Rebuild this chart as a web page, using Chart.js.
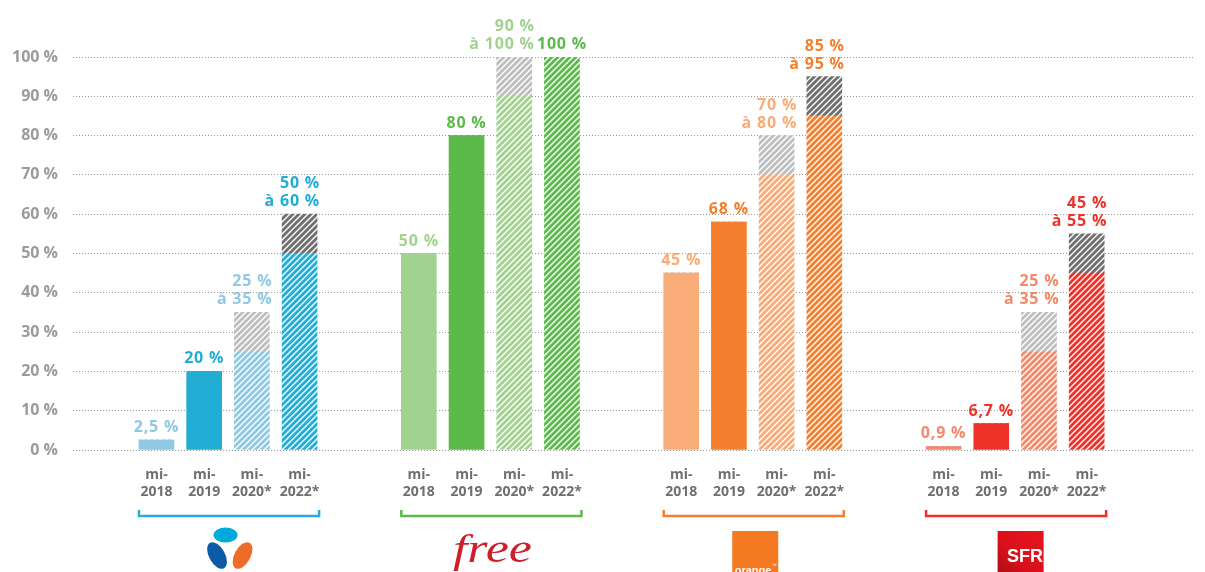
<!DOCTYPE html>
<html>
<head>
<meta charset="utf-8">
<script src="https://cdn.jsdelivr.net/npm/chart.js@4"></script>
<style>
  html, body { margin: 0; background: #fff; }
</style>
</head>
<body>
<canvas id="c" width="1205" height="572"></canvas>
<script>
// data
const operators = ['Bouygues Telecom', 'Free', 'Orange', 'SFR'];
const periods = [['mi-', '2018'], ['mi-', '2019'], ['mi-', '2020*'], ['mi-', '2022*']];
const lowValues = [2.5, 20, 25, 50,   50, 80, 90, 100,   45, 58, 70, 85,   0.9, 6.7, 25, 45];
const highValues = [2.5, 20, 35, 60,  50, 80, 100, 100,  45, 58, 80, 95,   0.9, 6.7, 35, 55];
const valueLabels = [
  ['2,5 %'], ['20 %'], ['25 %', 'à 35 %'], ['50 %', 'à 60 %'],
  ['50 %'], ['80 %'], ['90 %', 'à 100 %'], ['100 %'],
  ['45 %'], ['68 %'], ['70 %', 'à 80 %'], ['85 %', 'à 95 %'],
  ['0,9 %'], ['6,7 %'], ['25 %', 'à 35 %'], ['45 %', 'à 55 %']
];
const yTicks = [0, 10, 20, 30, 40, 50, 60, 70, 80, 90, 100];

// colours
const lightColors = ['#8fc8e2', '#a2d28f', '#f9ac78', '#f3896b'];
const darkColors = ['#22add5', '#5cba4b', '#f37f2f', '#ee3129'];
const bracketColors = ['#2aaad8', '#5dbb4c', '#f47e2e', '#ee3129'];
const greyLight = '#bdbec0';
const greyDark = '#6e6f71';
const fontFamily = '"Open Sans"';

// slot layout on the category axis (half-width slots, spacers are blank)
const leadSlots = 3, groupStep = 11, barStep = 2, totalSlots = 47;
const barSlots = [];
operators.forEach((op, g) => periods.forEach((p, k) => barSlots.push(leadSlots + g * groupStep + k * barStep)));

const canvas = document.getElementById('c');
const ctx = canvas.getContext('2d');

function hatch(color) {
  const s = 6;
  const tile = document.createElement('canvas');
  tile.width = s; tile.height = s;
  const t = tile.getContext('2d');
  t.fillStyle = color;
  t.fillRect(0, 0, s, s);
  t.strokeStyle = '#fff';
  t.lineWidth = 1.4;
  t.beginPath();
  t.moveTo(0, s); t.lineTo(s, 0);
  t.moveTo(-2, 2); t.lineTo(2, -2);
  t.moveTo(s - 2, s + 2); t.lineTo(s + 2, s - 2);
  t.stroke();
  return ctx.createPattern(tile, 'repeat');
}

const labels = [];
const baseData = [];
const rangeData = [];
const baseColors = [];
const rangeColors = [];
for (let i = 0; i < totalSlots; i++) {
  labels.push('');
  baseData.push(null);
  rangeData.push(null);
  baseColors.push('transparent');
  rangeColors.push('transparent');
}
const labelColors = [];
barSlots.forEach((slot, i) => {
  const g = Math.floor(i / 4), k = i % 4;
  labels[slot] = periods[k];
  baseData[slot] = lowValues[i];
  rangeData[slot] = +(highValues[i] - lowValues[i]).toFixed(1);
  const col = (k % 2 === 0) ? lightColors[g] : darkColors[g];
  labelColors.push(col);
  baseColors[slot] = k < 2 ? col : hatch(col);
  rangeColors[slot] = k === 2 ? hatch(greyLight) : hatch(greyDark);
});

const decorations = {
  id: 'decorations',
  afterDatasetsDraw(chart) {
    const c = chart.ctx;
    const top = chart.getDatasetMeta(1);
    c.save();
    // value labels
    c.font = 'bold 16px ' + fontFamily;
    c.letterSpacing = '0.8px';
    c.textBaseline = 'alphabetic';
    barSlots.forEach((slot, i) => {
      const el = top.data[slot];
      const lines = valueLabels[i];
      c.fillStyle = labelColors[i];
      if (lines.length === 1) {
        c.textAlign = 'center';
        c.fillText(lines[0], el.x, el.y - 8);
      } else {
        c.textAlign = 'right';
        const r = el.x + el.width / 2 + 3;
        c.fillText(lines[1], r, el.y - 8);
        c.fillText(lines[0], r, el.y - 26);
      }
    });
    c.letterSpacing = '0px';
    // brackets and logos
    const base = chart.getDatasetMeta(0);
    operators.forEach((op, g) => {
      const first = base.data[barSlots[g * 4]];
      const last = base.data[barSlots[g * 4 + 3]];
      const x0 = first.x - first.width / 2;
      const x1 = last.x + last.width / 2 + 2;
      const cx = (first.x + last.x) / 2;
      c.strokeStyle = bracketColors[g];
      c.lineWidth = 2.5;
      c.beginPath();
      c.moveTo(x0, 510); c.lineTo(x0, 516); c.lineTo(x1, 516); c.lineTo(x1, 510);
      c.stroke();
      drawLogo(c, op, cx);
    });
    c.restore();
  }
};

function drawLogo(c, op, cx) {
  c.save();
  if (op === 'Bouygues Telecom') {
    c.fillStyle = '#00a9db';
    c.beginPath(); c.ellipse(cx - 2.5, 535, 12, 7.5, 0, 0, Math.PI * 2); c.fill();
    c.fillStyle = '#0d5aa7';
    c.beginPath(); c.ellipse(cx - 11, 555.5, 8, 14.5, -0.5, 0, Math.PI * 2); c.fill();
    c.fillStyle = '#ef6b2a';
    c.beginPath(); c.ellipse(cx + 14.5, 555.5, 8, 14.5, 0.5, 0, Math.PI * 2); c.fill();
  } else if (op === 'Free') {
    c.fillStyle = '#cc1f2a';
    c.font = 'italic 40px "Liberation Serif"';
    const w = c.measureText('free').width;
    c.translate(cx + 2, 562);
    c.scale(79 / w, 1);
    c.textAlign = 'center';
    c.fillText('free', 0, 0);
  } else if (op === 'Orange') {
    c.fillStyle = '#f47920';
    c.fillRect(cx - 20.5, 531, 46, 45);
    c.fillStyle = '#fff';
    c.font = 'bold 11px "Liberation Sans"';
    c.textAlign = 'left';
    c.fillText('orange', cx - 18, 574);
    c.font = '5px "Liberation Sans"';
    c.fillText('™', cx + 19, 567);
  } else if (op === 'SFR') {
    const g = c.createLinearGradient(cx + 28, 531, cx - 18, 576);
    g.addColorStop(0, '#e8141f');
    g.addColorStop(0.6, '#d8101b');
    g.addColorStop(1, '#a80d16');
    c.fillStyle = g;
    c.fillRect(cx - 17.5, 531, 46, 45);
    c.fillStyle = '#fff';
    c.font = 'bold 18px "Liberation Sans"';
    c.textAlign = 'left';
    c.fillText('SFR', cx - 8, 562);
  }
  c.restore();
}

Chart.defaults.font.family = fontFamily;

new Chart(canvas, {
  type: 'bar',
  data: {
    labels: labels,
    datasets: [
      { label: 'low', data: baseData, backgroundColor: baseColors, stack: 's' },
      { label: 'range', data: rangeData, backgroundColor: rangeColors, stack: 's' }
    ]
  },
  options: {
    responsive: false,
    animation: false,
    barThickness: 35,
    borderWidth: 0,
    layout: { padding: { top: 57, right: 11, left: 0, bottom: 0 } },
    plugins: { legend: { display: false }, tooltip: { enabled: false } },
    scales: {
      x: {
        stacked: true,
        grid: { display: false, drawTicks: false },
        border: { display: false },
        ticks: {
          autoSkip: false, maxRotation: 0, minRotation: 0, padding: 17,
          color: '#6f6f71',
          font: { family: fontFamily, weight: 'bold', size: 14, lineHeight: 1.2 }
        },
        afterFit(s) { s.height = 122; }
      },
      y: {
        stacked: true,
        min: 0, max: 100,
        afterBuildTicks(s) { s.ticks = yTicks.map(v => ({ value: v })); },
        grid: { color: '#9a9a9a', lineWidth: 1, drawTicks: false },
        border: { display: false, dash: [1, 2] },
        ticks: {
          padding: 15,
          color: '#9b9b9b',
          font: { family: fontFamily, weight: 'bold', size: 16 },
          callback: v => v + ' %'
        },
        afterFit(s) { s.width = 73; }
      }
    }
  },
  plugins: [decorations]
});
</script>
</body>
</html>
